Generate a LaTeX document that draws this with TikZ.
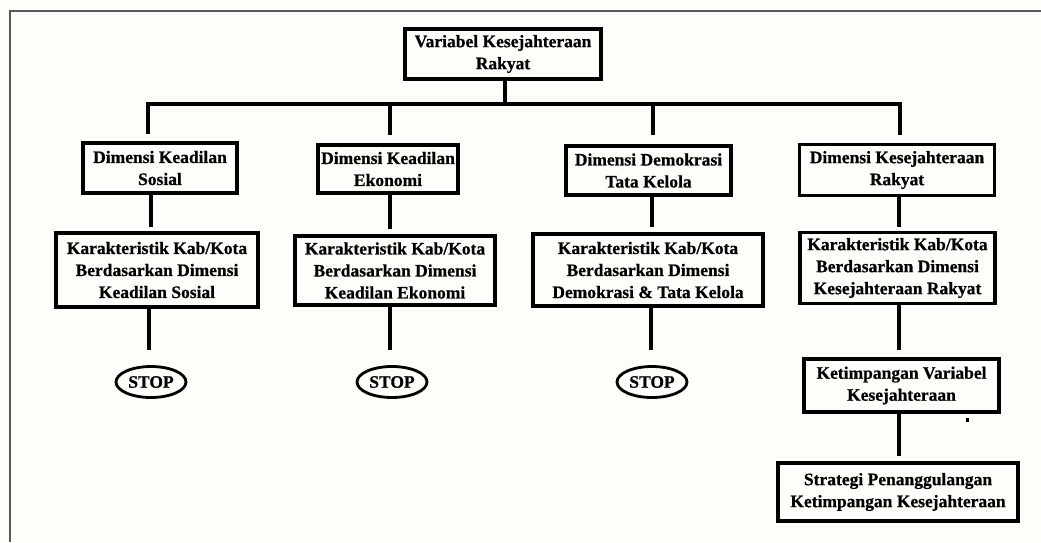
\documentclass[tikz,border=0pt]{standalone}
\usepackage{fontspec}
\setmainfont{Liberation Serif}
\newfontfamily\heavyfont{Liberation Serif}[BoldFont={Liberation Serif Bold}, BoldFeatures={FakeBold=0.6}]
\usetikzlibrary{shapes.geometric}
\begin{document}
\begin{tikzpicture}[x=1pt,y=-1pt,
  box/.style={draw=black, line width=3.5pt, inner sep=0pt, align=center,
    font=\heavyfont\bfseries\fontsize{17.5}{22}\selectfont, text=black},
  stopnode/.style={draw=black, ellipse, line width=2.8pt, inner sep=0pt,
    minimum width=70pt, minimum height=31pt, font=\heavyfont\bfseries\fontsize{17.5}{22}\selectfont},
  conn/.style={line width=3.6pt, draw=black}]
\fill[fill={rgb,255:red,253;green,253;blue,250}] (0,0) rectangle (1041,542);
\useasboundingbox (0,0) rectangle (1041,542);
% frame
\draw[line width=1.2pt, draw={rgb,255:red,90;green,90;blue,90}] (10,542) -- (10,11) -- (1041,11);

% nodes
\node[box, minimum width=196pt, minimum height=50pt] (top) at (503,54) {Variabel Kesejahteraan\\Rakyat};

\node[box, minimum width=154pt, minimum height=50pt] (d1) at (160,168) {Dimensi Keadilan\\Sosial};
\node[box, minimum width=140pt, minimum height=48pt] (d2) at (388,169) {Dimensi Keadilan\\Ekonomi};
\node[box, minimum width=165pt, minimum height=49pt] (d3) at (648.5,170.5) {Dimensi Demokrasi\\Tata Kelola};
\node[box, minimum width=195pt, minimum height=51pt] (d4) at (897,170) {Dimensi Kesejahteraan\\Rakyat};

\node[box, minimum width=202pt, minimum height=74pt] (k1) at (157,270) {Karakteristik Kab/Kota\\Berdasarkan Dimensi\\Keadilan Sosial};
\node[box, minimum width=200pt, minimum height=69pt] (k2) at (395,270.5) {Karakteristik Kab/Kota\\Berdasarkan Dimensi\\Keadilan Ekonomi};
\node[box, minimum width=230pt, minimum height=72pt] (k3) at (648,270) {Karakteristik Kab/Kota\\Berdasarkan Dimensi\\Demokrasi \& Tata Kelola};
\node[box, minimum width=195pt, minimum height=71pt] (k4) at (897.5,268) {Karakteristik Kab/Kota\\Berdasarkan Dimensi\\Kesejahteraan Rakyat};

\node[stopnode] (s1) at (151,382) {STOP};
\node[stopnode] (s2) at (392,382) {STOP};
\node[stopnode] (s3) at (652,382) {STOP};

\node[box, minimum width=195pt, minimum height=53pt] (ket) at (901.5,385.5) {Ketimpangan Variabel\\Kesejahteraan};
\node[box, minimum width=240pt, minimum height=58pt] (str) at (898,492) {Strategi Penanggulangan\\Ketimpangan Kesejahteraan};

% junctions on the bar
\coordinate (jt) at (505,104);
\coordinate (j1) at (148,104);
\coordinate (j2) at (390,104);
\coordinate (j3) at (653,104);
\coordinate (j4) at (900,104);

% connectors
\draw[conn] (top.south -| jt) -- (jt);
\draw[conn, line cap=rect] (j1) -- (j4);
\draw[conn, shorten >=7pt] (j1) -- (j1 |- d1.north);
\draw[conn, shorten >=8pt] (j2) -- (j2 |- d2.north);
\draw[conn, shorten >=9pt] (j3) -- (j3 |- d3.north);
\draw[conn, shorten >=8pt] (j4) -- (j4 |- d4.north);

\coordinate (c1) at (151,0);
\coordinate (c2) at (390,0);
\coordinate (c3) at (652,0);
\coordinate (c4) at (899,0);
\draw[conn, shorten >=4pt] (c1 |- d1.south) -- (c1 |- k1.north);
\draw[conn, shorten >=5pt] (c2 |- d2.south) -- (c2 |- k2.north);
\draw[conn, shorten >=5pt] (c3 |- d3.south) -- (c3 |- k3.north);
\draw[conn, shorten >=4pt] (c4 |- d4.south) -- (c4 |- k4.north);

\coordinate (e1) at (149,0);
\coordinate (e2) at (390,0);
\coordinate (e3) at (651,0);
\draw[conn, shorten >=15pt] (e1 |- k1.south) -- (e1 |- s1.north);
\draw[conn, shorten >=15pt] (e2 |- k2.south) -- (e2 |- s2.north);
\draw[conn, shorten >=15pt] (e3 |- k3.south) -- (e3 |- s3.north);

\coordinate (f1) at (899,0);
\draw[conn, shorten >=7pt] (f1 |- k4.south) -- (f1 |- ket.north);
\draw[conn, shorten >=5pt] (f1 |- ket.south) -- (f1 |- str.north);

% stray mark
\fill[black] (965.5,418) rectangle (968.5,421.5);
\end{tikzpicture}
\end{document}
